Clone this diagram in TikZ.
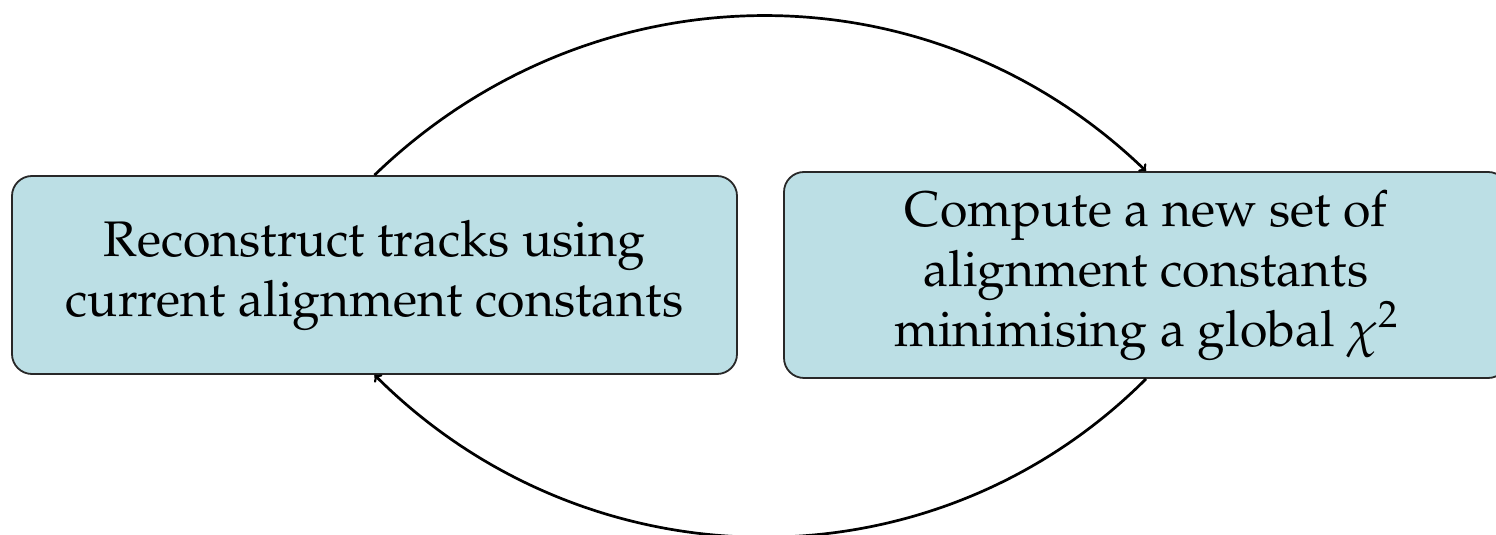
\documentclass[tikz,border=0pt]{standalone}
\usepackage[T1]{fontenc}
\usepackage{mathpazo}
\usetikzlibrary{arrows}
\definecolor{boxfill}{RGB}{188,223,229}
\definecolor{boxline}{RGB}{40,40,40}
\tikzset{
  stepbox/.style={draw=boxline, line width=1.8pt, fill=boxfill, rounded corners=20pt,
    align=center, inner sep=0pt, font=\fontsize{50}{60}\selectfont},
  loop/.style={line width=2.7pt, -to}
}
\begin{document}
\begin{tikzpicture}[x=1pt,y=1pt]
\useasboundingbox (0,0) rectangle (1496,535);
\node[stepbox, minimum width=725pt, minimum height=198pt] (L) at (374.5,260)
  {Reconstruct tracks using\\current alignment constants};
\node[stepbox, minimum width=724pt, minimum height=206pt] (R) at (1146,260)
  {Compute a new set of\\alignment constants\\minimising a global $\chi^2$};
\draw[loop] (L.north) to[out=44, in=136] (R.north);
\draw[loop] (R.south) to[out=-135, in=-45] (L.south);
\end{tikzpicture}
\end{document}
